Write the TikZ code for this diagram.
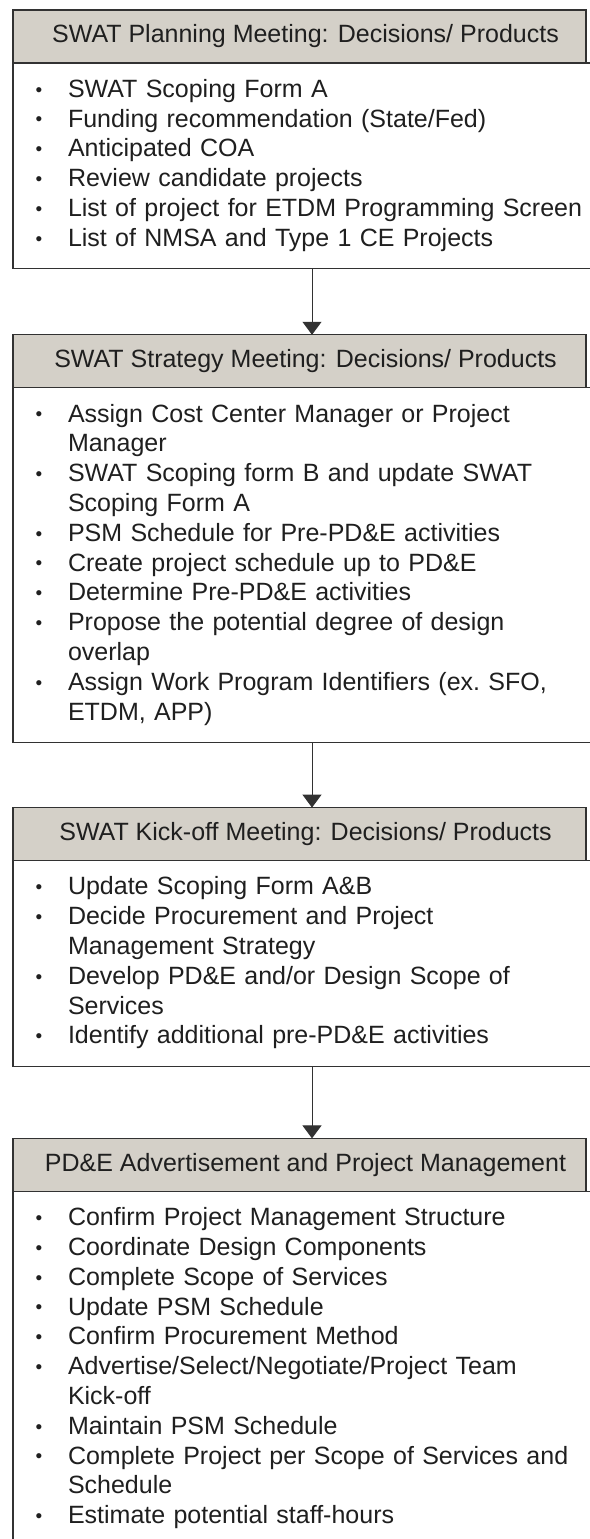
\documentclass[tikz,border=0pt]{standalone}
\usepackage{fontspec}
\setmainfont{Liberation Sans}
\usepackage{xcolor}
\usetikzlibrary{arrows.meta,positioning}

\definecolor{headgray}{RGB}{212,208,200}
\definecolor{boxline}{RGB}{50,50,50}
\newcommand{\bitem}{\strut\makebox[33pt][l]{\hspace{0.5pt}\raisebox{1.3pt}{\fontsize{19pt}{19pt}\selectfont\textbullet}}}
\newcommand{\bcont}{\strut\hspace*{33pt}}

\begin{document}
\begin{tikzpicture}[>={Triangle[width=19pt,length=13pt]},
    head/.style={draw=boxline, line width=1.3pt, fill=headgray, outer sep=0pt,
        minimum width=573pt, minimum height=53pt, text=black!88,
        execute at begin node=\hspace*{12pt},
        font=\fontsize{25pt}{29.8pt}\selectfont},
    body/.style={draw=boxline, line width=1.3pt, fill=white, outer sep=0pt,
        text width=560pt, inner xsep=22pt, inner ysep=0pt, align=left,
        minimum height=#1*29.8pt+27pt, text=black!88, anchor=north west,
        font=\fontsize{25pt}{29.8pt}\selectfont},
    link/.style={->, line width=1pt, boxline}]
    \useasboundingbox (0,0) rectangle (589pt,-1539pt);

    % Planning meeting
    \node[head] (plan) at (299.5pt,-36.5pt) {SWAT Planning Meeting: Decisions/ Products};
    \node[body=6] (planlist) at (plan.south west) {\bitem SWAT Scoping Form A\\
        \bitem Funding recommendation (State/Fed)\\
        \bitem Anticipated COA\\
        \bitem Review candidate projects\\
        \bitem List of project for ETDM Programming Screen\\
        \bitem List of NMSA and Type 1 CE Projects};

    % Strategy meeting
    \node[head, below=66pt of plan.south |- planlist.south] (strat) {SWAT Strategy Meeting: Decisions/ Products};
    \node[body=11] (stratlist) at (strat.south west) {\bitem Assign Cost Center Manager or Project\\
        \bcont Manager\\
        \bitem SWAT Scoping form B and update SWAT\\
        \bcont Scoping Form A\\
        \bitem PSM Schedule for Pre-PD\&E activities\\
        \bitem Create project schedule up to PD\&E\\
        \bitem Determine Pre-PD\&E activities\\
        \bitem Propose the potential degree of design\\
        \bcont overlap\\
        \bitem Assign Work Program Identifiers (ex.\ SFO,\\
        \bcont ETDM, APP)};

    % Kick-off meeting
    \node[head, below=65pt of strat.south |- stratlist.south] (kick) {SWAT Kick-off Meeting: Decisions/ Products};
    \node[body=6] (kicklist) at (kick.south west) {\bitem Update Scoping Form A\&B\\
        \bitem Decide Procurement and Project\\
        \bcont Management Strategy\\
        \bitem Develop PD\&E and/or Design Scope of\\
        \bcont Services\\
        \bitem Identify additional pre-PD\&E activities};

    % PD&E advertisement
    \node[head, below=72pt of kick.south |- kicklist.south] (adv) {PD\&E Advertisement and Project Management};
    \node[body=11] (advlist) at (adv.south west) {\bitem Confirm Project Management Structure\\
        \bitem Coordinate Design Components\\
        \bitem Complete Scope of Services\\
        \bitem Update PSM Schedule\\
        \bitem Confirm Procurement Method\\
        \bitem Advertise/Select/Negotiate/Project Team\\
        \bcont Kick-off\\
        \bitem Maintain PSM Schedule\\
        \bitem Complete Project per Scope of Services and\\
        \bcont Schedule\\
        \bitem Estimate potential staff-hours};

    % Arrows
    \draw[link] ([xshift=12.5pt]strat.north |- planlist.south) -- ([xshift=12.5pt]strat.north);
    \draw[link] ([xshift=12.5pt]kick.north |- stratlist.south) -- ([xshift=12.5pt]kick.north);
    \draw[link] ([xshift=12.5pt]adv.north |- kicklist.south) -- ([xshift=12.5pt]adv.north);
\end{tikzpicture}
\end{document}
